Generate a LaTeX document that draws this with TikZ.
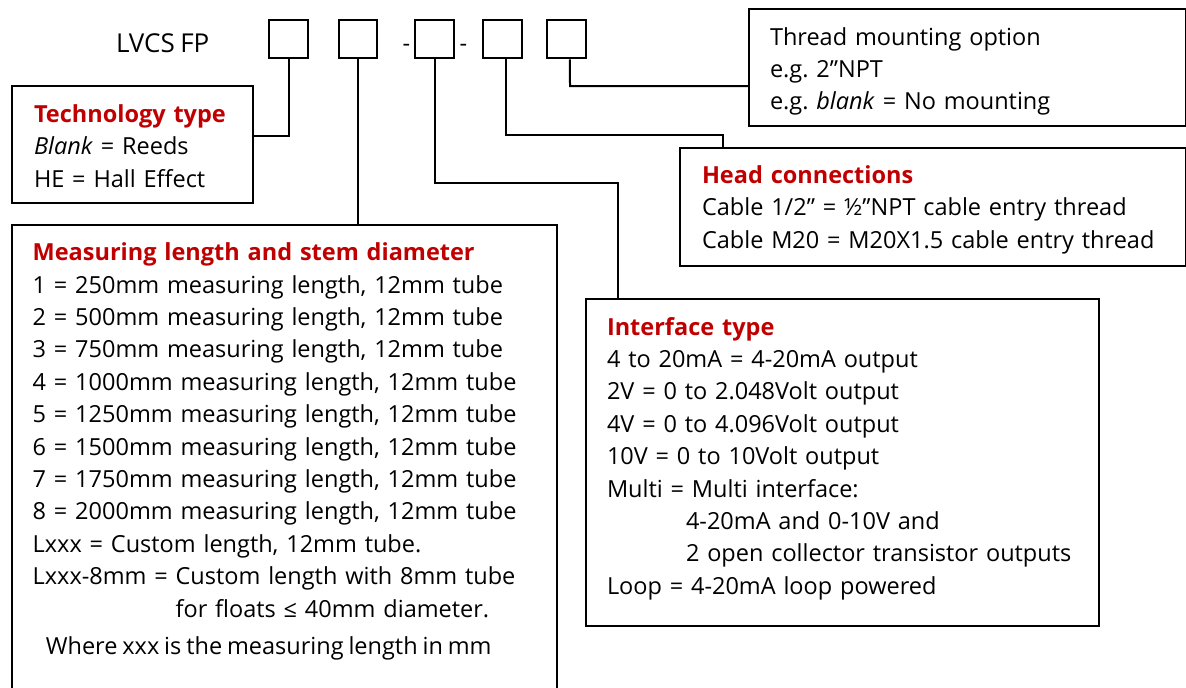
\documentclass[tikz,border=0pt]{standalone}
\usepackage{fontspec}
\setmainfont{Open Sans}[WordSpace=0.8]
\usepackage{xcolor}
\usetikzlibrary{positioning,calc}
\definecolor{titlered}{HTML}{C00000}
\newcommand{\boxhead}[1]{\textcolor{titlered}{\bfseries #1}}
\frenchspacing

\begin{document}
\begin{tikzpicture}[
    x=0.5pt, y=-0.5pt,
    line width=1pt,
    every node/.style={inner sep=0pt, font=\fontsize{11.75}{16.2}\selectfont},
    codebox/.style={draw, rectangle, minimum width=19.25pt, minimum height=19.25pt},
    panel/.style={draw, rectangle, anchor=north west},
    paneltext/.style={anchor=base west, align=left, text width=255pt}
]
\useasboundingbox (0,0) rectangle (1186,687);

% order code
\node[anchor=base west, font=\fontsize{13}{16}\selectfont] (title) at (115,52) {LVCS FP};
\node[codebox] (c1) at (288.5,39) {};
\node[codebox] (c2) at (358,39) {};
\node[anchor=base] (d1) at (406.5,51) {-};
\node[codebox] (c3) at (434.7,39) {};
\node[anchor=base] (d2) at (463.5,51) {-};
\node[codebox] (c4) at (502.7,39) {};
\node[codebox] (c5) at (566.3,39) {};

% option panels
\node[panel, minimum width=120.5pt, minimum height=58.5pt] (tech) at (11,85) {};
\node[panel, minimum width=272.5pt, minimum height=250pt] (meas) at (11,224) {};
\node[panel, minimum width=218.25pt, minimum height=58.5pt] (thread) at (748,8) {};
\node[panel, minimum width=252.75pt, minimum height=59pt] (head) at (679,147) {};
\node[panel, minimum width=256.5pt, minimum height=163.5pt] (iface) at (585,298) {};

% panel texts
\node[paneltext] (techtxt) at (33,122.5) {\boxhead{Technology type}\\
    \textit{Blank} = Reeds\\
    HE = Hall Effect};
\node[paneltext] (threadtxt) at (769,45) {Thread mounting option\\
    e.g. 2”NPT\\
    e.g. \textit{blank} = No mounting};
\node[paneltext] (headtxt) at (701,183.3) {\boxhead{Head connections}\\
    Cable 1/2” = ½”NPT cable entry thread\\
    Cable M20 = M20X1.5 cable entry thread};
\node[paneltext] (meastxt) at (31.7,260.7) {\boxhead{Measuring length and stem diameter}\\
    1 = 250mm measuring length, 12mm tube\\
    2 = 500mm measuring length, 12mm tube\\
    3 = 750mm measuring length, 12mm tube\\
    4 = 1000mm measuring length, 12mm tube\\
    5 = 1250mm measuring length, 12mm tube\\
    6 = 1500mm measuring length, 12mm tube\\
    7 = 1750mm measuring length, 12mm tube\\
    8 = 2000mm measuring length, 12mm tube\\
    Lxxx = Custom length, 12mm tube.\\
    Lxxx-8mm = Custom length with 8mm tube\\
    \phantom{Lxxx-8mm = }for floats ≤ 40mm diameter.};
\node[anchor=base] (measnote) at (268.7,654) {Where xxx is the measuring length in mm};
\node[paneltext] (ifacetxt) at (606,335) {\boxhead{Interface type}\\
    4 to 20mA = 4-20mA output\\
    2V = 0 to 2.048Volt output\\
    4V = 0 to 4.096Volt output\\
    10V = 0 to 10Volt output\\
    Multi = Multi interface:\\
    \hspace*{39.5pt}4-20mA and 0-10V and\\
    \hspace*{39.5pt}2 open collector transistor outputs\\
    Loop = 4-20mA loop powered};

% connectors
\coordinate (k1) at (288.5,136);
\coordinate (k3) at (618,183);
\coordinate (k4) at (723,135);
\coordinate (k5) at (570,86);
\draw (c1.south) -- (k1) -- (k1 -| tech.east);
\draw (c2.south) -- (c2.south |- meas.north);
\draw (c3.south) |- (k3) -- (k3 |- iface.north);
\draw ([xshift=1.7pt]c4.south) |- (k4) -- (k4 |- head.north);
\draw ([xshift=1.8pt]c5.south) -- (k5) -- (k5 -| thread.west);

\end{tikzpicture}
\end{document}
